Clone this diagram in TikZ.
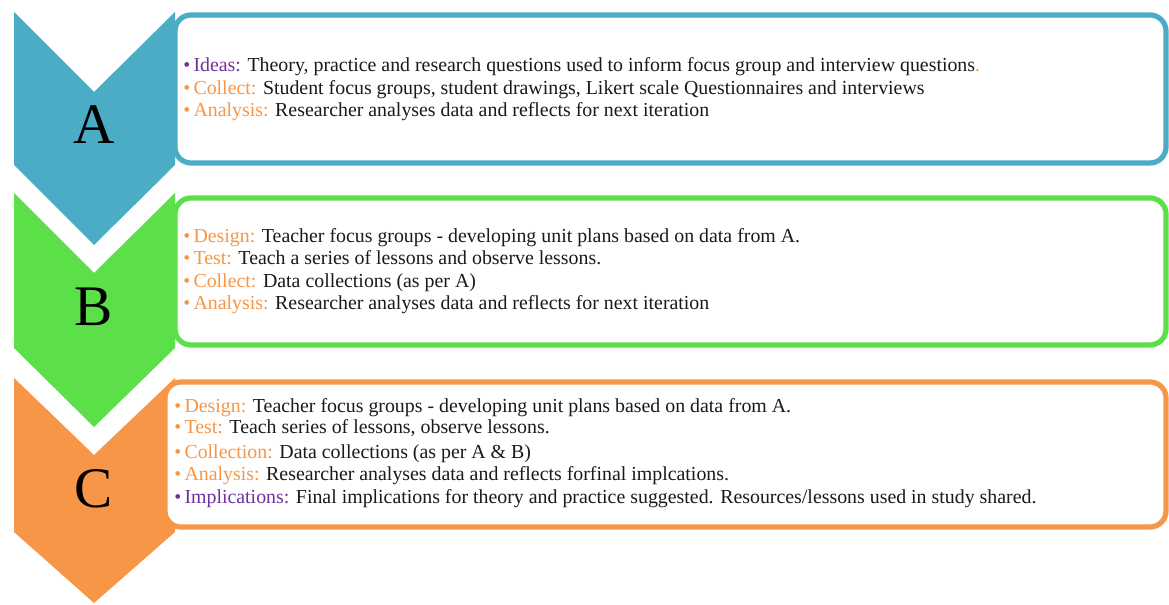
\documentclass[tikz,border=0pt]{standalone}
\usepackage{fontspec}
\setmainfont{Liberation Serif}
\definecolor{stageA}{HTML}{4BACC6}
\definecolor{stageB}{HTML}{5CE04A}
\definecolor{stageC}{HTML}{F79646}
\definecolor{tagPurple}{HTML}{7030A0}
\definecolor{tagOrange}{HTML}{F79646}
\definecolor{bodytext}{HTML}{1A1A1A}
\newcommand{\tagP}[1]{\textcolor{tagPurple}{\textbullet\,#1}}
\newcommand{\tagO}[1]{\textcolor{tagOrange}{\textbullet\,#1}}
\begin{document}
\begin{tikzpicture}[x=0.75pt,y=-0.75pt,
  panel/.style={line width=3.9pt, fill=white, rounded corners=12pt},
  item/.style={anchor=base west, inner sep=0pt, text=bodytext,
    font=\fontsize{14.9}{17}\selectfont},
  letter/.style={inner sep=0pt, font=\fontsize{43}{50}\selectfont}]
\useasboundingbox (0,0) rectangle (1169,605);
\fill[white] (0,0) rectangle (1169,605);

% stage A: panel, then chevron over its left edge
\draw[panel, draw=stageA] (175,15) rectangle (1166,163);
\fill[stageA] (14,12) -- (94,92) -- (175,12) -- (175,165) -- (94,245) -- (14,165) -- cycle;
\node[letter] (la) at (94,125) {A};
\node[item] (a1) at (183,72) {\tagP{Ideas:} Theory, practice and research questions used to inform focus group and interview questions\textcolor{tagOrange}{.}};
\node[item] (a2) at (183,95) {\tagO{Collect:} Student focus groups, student drawings, Likert scale Questionnaires and interviews};
\node[item] (a3) at (183,117) {\tagO{Analysis:} Researcher analyses data and reflects for next iteration};

% stage B
\draw[panel, draw=stageB] (175,198) rectangle (1166,345);
\fill[stageB] (14,193) -- (94,273) -- (175,193) -- (175,348) -- (94,427) -- (14,348) -- cycle;
\node[letter] (lb) at (94,307) {B};
\node[item] (b1) at (183,243) {\tagO{Design:} Teacher focus groups - developing unit plans based on data from A.};
\node[item] (b2) at (183,265) {\tagO{Test:} Teach a series of lessons and observe lessons.};
\node[item] (b3) at (183,288) {\tagO{Collect:} Data collections (as per A)};
\node[item] (b4) at (183,310) {\tagO{Analysis:} Researcher analyses data and reflects for next iteration};

% stage C: chevron first, panel laid over it
\fill[stageC] (14,378) -- (94,455) -- (175,378) -- (175,532) -- (94,603) -- (14,532) -- cycle;
\draw[panel, draw=stageC] (165,382) rectangle (1166,527);
\node[letter] (lc) at (94,489) {C};
\node[item] (c1) at (174,412) {\tagO{Design:} Teacher focus groups - developing unit plans based on data from A.};
\node[item] (c2) at (174,433) {\tagO{Test:} Teach series of lessons, observe lessons.};
\node[item] (c3) at (174,458) {\tagO{Collection:} Data collections (as per A \& B)};
\node[item] (c4) at (174,480) {\tagO{Analysis:} Researcher analyses data and reflects forfinal implcations.};
\node[item] (c5) at (174,503) {\tagP{Implications:} Final implications for theory and practice suggested. Resources/lessons used in study shared.};
\end{tikzpicture}
\end{document}
